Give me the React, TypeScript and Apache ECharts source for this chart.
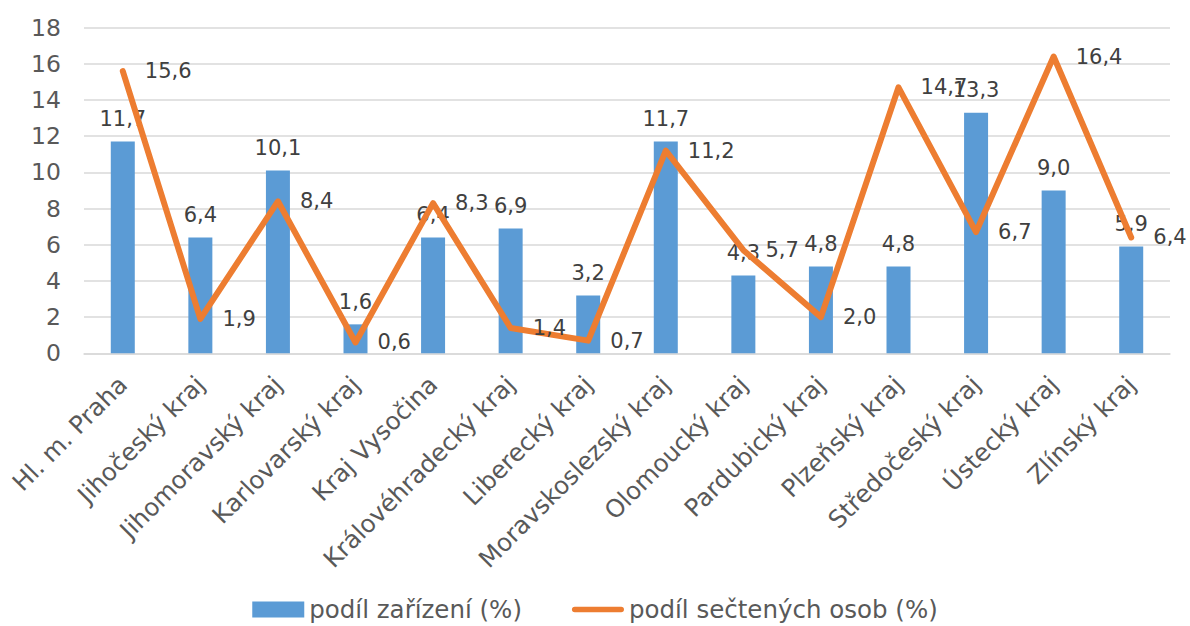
import React, { useEffect, useRef } from "react";
import * as echarts from "echarts";

const categories = [
  "Hl. m. Praha",
  "Jihočeský kraj",
  "Jihomoravský kraj",
  "Karlovarský kraj",
  "Kraj Vysočina",
  "Královéhradecký kraj",
  "Liberecký kraj",
  "Moravskoslezský kraj",
  "Olomoucký kraj",
  "Pardubický kraj",
  "Plzeňský kraj",
  "Středočeský kraj",
  "Ústecký kraj",
  "Zlínský kraj",
];

const podilZarizeni = [11.7, 6.4, 10.1, 1.6, 6.4, 6.9, 3.2, 11.7, 4.3, 4.8, 4.8, 13.3, 9.0, 5.9];
const podilOsob = [15.6, 1.9, 8.4, 0.6, 8.3, 1.4, 0.7, 11.2, 5.7, 2.0, 14.7, 6.7, 16.4, 6.4];

const seriesNames = ["podíl zařízení (%)", "podíl sečtených osob (%)"];

const FONT = "Verdana, 'DejaVu Sans', sans-serif";
const fmt = (v: number) => v.toFixed(1).replace(".", ",");

export default function App() {
  const ref = useRef<HTMLDivElement>(null);
  useEffect(() => {
    document.body.style.margin = "0";
    const chart = echarts.init(ref.current!, null, { renderer: "svg" });
    chart.setOption({
      animation: false,
      textStyle: { fontFamily: FONT },
      grid: { left: 84, right: 20, top: 27.6, bottom: 272.7 },
      legend: {
        left: "center",
        top: 592,
        itemWidth: 52,
        itemHeight: 16,
        itemGap: 50,
        textStyle: { fontFamily: FONT, fontSize: 24.5, color: "#595959" },
        data: [
          { name: seriesNames[0], icon: "rect" },
          {
            name: seriesNames[1],
            icon: "path://M3,0 H53 A3,3 0 0 1 53,6 H3 A3,3 0 0 1 3,0 Z",
            itemStyle: { color: "#ED7D31" },
          },
        ],
      },
      xAxis: {
        type: "category",
        data: categories,
        axisTick: { show: false },
        axisLine: { lineStyle: { color: "#d9d9d9", width: 1.5 } },
        axisLabel: {
          rotate: 45,
          interval: 0,
          margin: 27,
          fontFamily: FONT,
          fontSize: 24.5,
          color: "#595959",
        },
      },
      yAxis: {
        type: "value",
        min: 0,
        max: 18,
        interval: 2,
        axisLine: { show: false },
        axisTick: { show: false },
        splitLine: { lineStyle: { color: "#d9d9d9", width: 1.5 } },
        axisLabel: { margin: 23, fontFamily: FONT, fontSize: 23.5, color: "#595959" },
      },
      series: [
        {
          name: seriesNames[0],
          type: "bar",
          data: podilZarizeni,
          barWidth: 24,
          z: 2,
          itemStyle: { color: "#5B9BD5" },
          label: {
            show: true,
            position: "top",
            distance: 12,
            fontFamily: FONT,
            fontSize: 21,
            color: "#404040",
            formatter: (p: any) => fmt(p.value),
          },
        },
        {
          name: seriesNames[1],
          type: "line",
          data: podilOsob,
          z: 3,
          symbol: "circle",
          symbolSize: 0.1,
          showSymbol: true,
          itemStyle: { color: "#ED7D31" },
          lineStyle: { color: "#ED7D31", width: 6, cap: "round", join: "round" },
          label: {
            show: true,
            position: "right",
            distance: 22,
            fontFamily: FONT,
            fontSize: 21,
            color: "#404040",
            formatter: (p: any) => fmt(p.value),
          },
        },
      ],
    });
    return () => chart.dispose();
  }, []);
  return <div ref={ref} style={{ width: 1190, height: 626 }} />;
}
